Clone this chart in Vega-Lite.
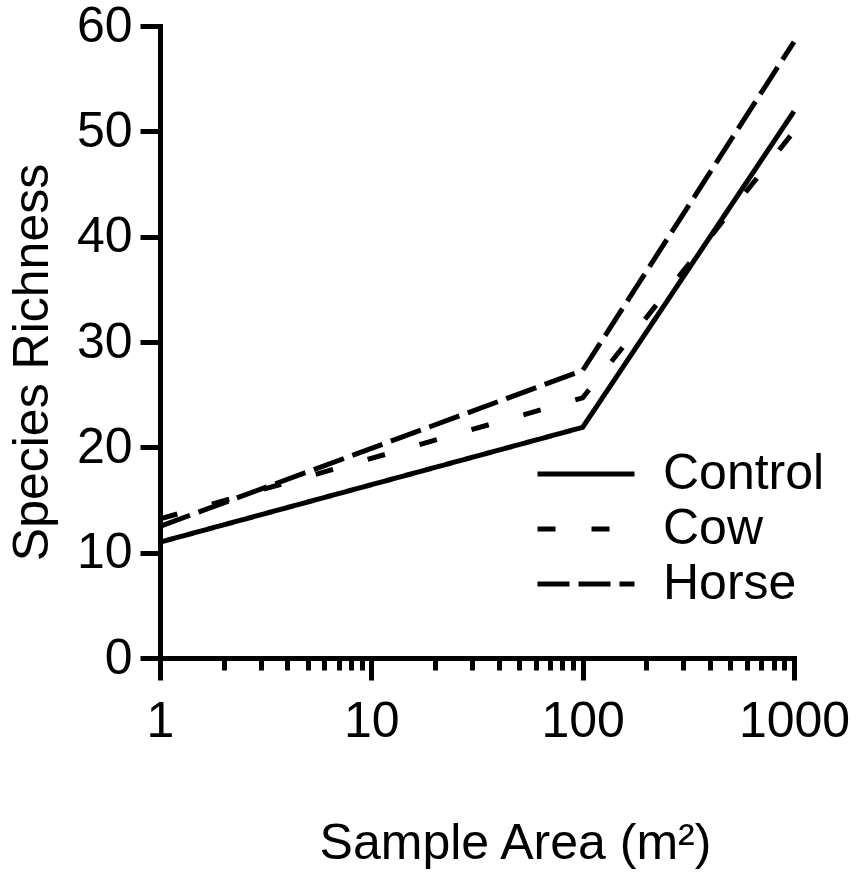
{
  "$schema": "https://vega.github.io/schema/vega-lite/v6.json",
  "width": 634,
  "height": 632,
  "autosize": "none",
  "padding": {"left": 160, "top": 26, "right": 63, "bottom": 217},
  "background": "white",
  "config": {
    "view": {"stroke": null},
    "font": "Liberation Sans",
    "axis": {
      "domainColor": "black",
      "domainWidth": 5,
      "domainCap": "square",
      "tickColor": "black",
      "tickWidth": 5,
      "grid": false,
      "labelFont": "Liberation Sans",
      "labelFontSize": 50,
      "labelColor": "black",
      "titleFont": "Liberation Sans",
      "titleFontSize": 50,
      "titleFontWeight": "normal",
      "titleColor": "black"
    },
    "legend": {
      "labelFont": "Liberation Sans",
      "labelFontSize": 50,
      "labelColor": "black"
    }
  },
  "data": {
    "values": [
      {"area": 1, "richness": 11.0, "treatment": "Control"},
      {"area": 100, "richness": 21.9, "treatment": "Control"},
      {"area": 1000, "richness": 51.9, "treatment": "Control"},
      {"area": 1, "richness": 13.2, "treatment": "Cow"},
      {"area": 100, "richness": 24.7, "treatment": "Cow"},
      {"area": 1000, "richness": 50.0, "treatment": "Cow"},
      {"area": 1, "richness": 12.5, "treatment": "Horse"},
      {"area": 100, "richness": 27.3, "treatment": "Horse"},
      {"area": 1000, "richness": 58.5, "treatment": "Horse"}
    ]
  },
  "mark": {"type": "line", "strokeWidth": 5, "color": "black", "strokeCap": "butt"},
  "encoding": {
    "x": {
      "field": "area",
      "type": "quantitative",
      "scale": {"type": "log", "domain": [1, 1000], "nice": false},
      "axis": {
        "title": "Sample Area (m²)",
        "values": [1, 2, 3, 4, 5, 6, 7, 8, 9, 10, 20, 30, 40, 50, 60, 70, 80, 90, 100, 200, 300, 400, 500, 600, 700, 800, 900, 1000],
        "labelExpr": "indexof([1, 10, 100, 1000], datum.value) >= 0 ? datum.label : ''",
        "format": "d",
        "tickSize": {
          "condition": {"test": "indexof([1, 10, 100, 1000], datum.value) >= 0", "value": 22},
          "value": 12
        },
        "labelPadding": 16,
        "labelFlush": false,
        "labelOverlap": false,
        "titleX": 355,
        "titleY": 200,
        "titleBaseline": "alphabetic",
        "titleAnchor": null
      }
    },
    "y": {
      "field": "richness",
      "type": "quantitative",
      "scale": {"domain": [0, 60], "nice": false},
      "axis": {
        "title": "Species Richness",
        "values": [0, 10, 20, 30, 40, 50, 60],
        "tickSize": 20,
        "labelPadding": 8,
        "titleX": -113,
        "titleY": 336,
        "titleBaseline": "alphabetic",
        "titleAnchor": null
      }
    },
    "strokeDash": {
      "field": "treatment",
      "type": "nominal",
      "scale": {
        "domain": ["Control", "Cow", "Horse"],
        "range": [[1, 0], [18, 36], [32, 9]]
      },
      "legend": {
        "title": null,
        "orient": "none",
        "legendX": 375,
        "legendY": 424,
        "symbolType": "stroke",
        "symbolSize": 9409,
        "symbolStrokeWidth": 5,
        "symbolStrokeColor": "black",
        "labelOffset": 26,
        "labelLimit": 400,
        "clipHeight": 48,
        "rowPadding": 5
      }
    }
  }
}
